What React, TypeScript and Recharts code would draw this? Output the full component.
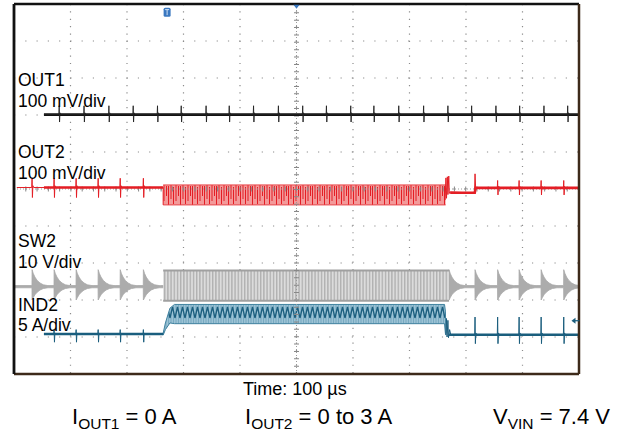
import React from 'react';
import {
  ComposedChart, Line, Area, XAxis, YAxis, CartesianGrid, ReferenceLine, ReferenceDot,
} from 'recharts';

// scope screen in divisions: x 0..10, y -5..5 (0 = centre line)
const xMajor = [0, 1, 2, 3, 4, 5, 6, 7, 8, 9, 10];
const yMajor = [-5, -4, -3, -2, -1, 0, 1, 2, 3, 4, 5];
const xMinor = Array.from({ length: 51 }, (_, i) => i / 5);
const yMinor = Array.from({ length: 51 }, (_, i) => -5 + i / 5);

// channel 2 skip pulses, load step
const ch2PulsesBefore = [0.32, 0.71, 1.10, 1.49, 1.88, 2.29];
const ch2PulsesAfter = [8.16, 8.56, 8.94, 9.33, 9.73];
const loadOn = 2.64;
const loadOff = 7.64;

// OUT1
const out1Level = 2.01;
const out1Start = 0.53;
const out1SpikeTimes = [0.80, 1.24, 1.68, 2.11, 2.54, 2.96, 3.40, 3.81, 4.24, 4.68, 5.11, 5.53,
  5.96, 6.37, 6.81, 7.25, 7.68, 8.10, 8.53, 8.95, 9.38, 9.80];
const out1Spike: [number, number][] = [[-0.006, 0], [0, 0.24], [0.006, -0.2], [0.014, 0.05], [0.028, 0]];

// OUT2
const out2Level = 0.04;
const out2LevelLow = -0.1;
const out2Start = 0.05;
const out2Band: [number, number] = [-0.43, 0.11];
const out2SpikeBefore: [number, number][] = [[-0.006, 0], [0, 0.25], [0.006, -0.27], [0.014, 0.05], [0.028, 0]];
const out2SpikeAfter: [number, number][] = [[-0.006, 0], [0, 0.2], [0.006, -0.19], [0.014, 0.04], [0.028, 0]];
const out2Tail: [number, number][] = [[7.63, -0.3], [7.645, 0.3], [7.655, -0.25], [7.67, 0.33], [7.68, -0.15],
  [7.695, 0.35], [7.705, -0.12], [7.72, -0.08], [8.15, -0.11], [8.16, 0.41], [8.17, 0.05], [8.2, 0.03]];

// SW2
const sw2Level = -2.64;
const sw2Band: [number, number] = [-3.02, -2.2];
const sw2RingTimes = [...ch2PulsesBefore, 7.7, ...ch2PulsesAfter];
const sw2Ring: [number, number, number][] = [[0, 0.46, 0.36], [0.02, 0.36, 0.3], [0.05, 0.26, 0.22],
  [0.09, 0.17, 0.15], [0.14, 0.1, 0.09], [0.2, 0.05, 0.05], [0.28, 0.03, 0.03]];

// IND2
const ind2Level = -3.92;
const ind2SpikeBefore: [number, number][] = [[-0.006, 0], [0, 0.12], [0.006, -0.22], [0.014, 0.03], [0.028, 0]];
const ind2SpikeAfter: [number, number][] = [[-0.006, 0], [0, 0.48], [0.006, -0.24], [0.014, 0.05], [0.028, 0]];
const ind2Rise: [number, number, number][] = [[2.64, -3.95, -3.9], [2.68, -3.8, -3.62], [2.76, -3.62, -3.22], [2.84, -3.64, -3.12]];
const ind2Fall: [number, number, number][] = [[7.62, -3.64, -3.12], [7.635, -3.9, -3.3], [7.645, -3.95, -3.9]];
const ind2Tail: [number, number][] = [[7.645, -3.94], [7.655, -3.5], [7.665, -4.0], [7.68, -3.55], [7.69, -4.02],
  [7.71, -3.8], [7.73, -3.94]];

type P = { t: number; v: number | null };
type R = { t: number; r: [number, number] };

const spikeLine = (level: number, from: number, to: number, times: number[], shape: [number, number][]): P[] => {
  const pts: P[] = [{ t: from, v: level }];
  times.filter((t0) => t0 > from && t0 < to).forEach((t0) => {
    shape.forEach(([dt, dv]) => pts.push({ t: t0 + dt, v: level + dv }));
  });
  pts.push({ t: to, v: level });
  return pts;
};

const out1Line = spikeLine(out1Level, out1Start, 10, out1SpikeTimes, out1Spike);
const out1Base: P[] = [{ t: out1Start, v: out1Level }, { t: 10, v: out1Level }];

const out2Pre = spikeLine(out2Level, out2Start, loadOn, ch2PulsesBefore, out2SpikeBefore);
const out2Line: P[] = [...out2Pre, { t: loadOn, v: out2Band[0] }, { t: 5, v: null },
  ...out2Tail.map(([t, v]) => ({ t, v })),
  ...spikeLine(0.03, 8.2, 10, ch2PulsesAfter, out2SpikeAfter)];
const out2Base: P[] = [{ t: out1Start, v: out2Level }, { t: loadOn, v: out2Level }, { t: 5, v: null },
  { t: 7.72, v: out2LevelLow }, { t: 8.155, v: out2LevelLow }, { t: 8.17, v: 0.03 }, { t: 10, v: 0.03 }];
const out2Dense: R[] = [{ t: loadOn, r: out2Band }, { t: loadOff, r: out2Band }];

const sw2Rings: R[] = (() => {
  const base: [number, number] = [sw2Level - 0.03, sw2Level + 0.03];
  const pts: R[] = [{ t: 0, r: base }];
  sw2RingTimes.forEach((t0) => {
    pts.push({ t: t0 - 0.002, r: base });
    sw2Ring.forEach(([dt, up, dn]) => pts.push({ t: t0 + dt, r: [sw2Level - dn, sw2Level + up] }));
    pts.push({ t: t0 + 0.3, r: base });
  });
  pts.push({ t: 10, r: base });
  return pts.filter((p, i) => !(p.t > loadOn && p.t < 7.69 && i > 0));
})();
const sw2Dense: R[] = [{ t: loadOn, r: sw2Band }, { t: 7.7, r: sw2Band }];

const ind2Line: P[] = [...spikeLine(ind2Level, out1Start, loadOn, ch2PulsesBefore, ind2SpikeBefore),
  { t: 5, v: null }, ...ind2Tail.map(([t, v]) => ({ t, v })),
  ...spikeLine(-3.94, 7.73, 10, ch2PulsesAfter, ind2SpikeAfter)];
const ind2Base: P[] = [{ t: out1Start, v: ind2Level }, { t: loadOn, v: ind2Level }, { t: 5, v: null },
  { t: 7.7, v: -3.94 }, { t: 10, v: -3.94 }];
const ind2Dense: R[] = [...ind2Rise, ...ind2Fall].map(([t, lo, hi]) => ({ t, r: [lo, hi] as [number, number] }));

const trigger = { t: 2.71, v: 4.78 };
const triggerPos = { t: 5, v: 4.9 };
const ch4Marker = { t: 9.92, v: -3.56 };

const font = 'Liberation Sans, Arial, sans-serif';
const label = (top: number, text: string) => (
  <div style={{ position: 'absolute', left: 18, top, fontSize: 17.5, lineHeight: 1, fontFamily: font, color: '#000' }}>{text}</div>
);

const TrigShape = (p: any) => (
  <g>
    <rect x={p.cx - 3.5} y={p.cy - 4.5} width={7} height={9} rx={1.5} fill="#3a78c0" />
    <path d={`M${p.cx - 2} ${p.cy - 2.5}H${p.cx + 2}M${p.cx} ${p.cy - 2.5}V${p.cy + 3}`} stroke="#cfe0f5" strokeWidth={1} />
  </g>
);
const PosShape = (p: any) => (
  <path d={`M${p.cx - 3} ${p.cy - 3}H${p.cx + 3}L${p.cx} ${p.cy + 1}Z`} fill="#3a78c0" />
);
const ChShape = (p: any) => (
  <g>
    <path d={`M${p.cx - 3} ${p.cy}L${p.cx + 1} ${p.cy - 3}V${p.cy + 3}Z`} fill="#1b5e7e" />
    <path d={`M${p.cx} ${p.cy}H${p.cx + 5}`} stroke="#1b5e7e" strokeWidth={1.2} />
  </g>
);

const frameTick = { stroke: '#555' };

export default function App() {
  return (
    <div style={{ position: 'absolute', left: 0, top: 0, width: 620, height: 435, background: '#fff' }}>
      <ComposedChart width={620} height={435} margin={{ top: 4, right: 41, bottom: 61, left: 14 }}>
        <defs>
          <pattern id="redHatch" patternUnits="userSpaceOnUse" x={0} y={184} width={12} height={22}>
            <rect width={12} height={22} fill="#f39a9a" />
            <path d="M0.5 2V21M3 1V15M5.5 3V20M8 1V17M10.5 2V12" stroke="#e41e25" strokeWidth={1} />
          </pattern>
          <pattern id="grayHatch" patternUnits="userSpaceOnUse" x={0} y={0} width={3.2} height={10}>
            <rect width={3.2} height={10} fill="#dcdcdc" />
            <path d="M1.5 0V10" stroke="#a6a6a6" strokeWidth={1.1} />
          </pattern>
          <pattern id="blueHatch" patternUnits="userSpaceOnUse" x={0} y={303} width={5} height={20}>
            <rect width={5} height={20} fill="#9cc3d5" />
            <path d="M1 0V20M3.5 0V20" stroke="#6fa2bb" strokeWidth={0.8} />
            <path d="M0 15L2.5 4L5 15" stroke="#1b5e7e" strokeWidth={1.3} fill="none" />
          </pattern>
        </defs>
        <CartesianGrid horizontal={false} stroke="#8c8c8c" strokeWidth={1.2} strokeDasharray="1.2 6.16" />
        <CartesianGrid vertical={false} stroke="#8c8c8c" strokeWidth={1.2} strokeDasharray="1.2 10.06" />
        <XAxis dataKey="t" type="number" domain={[0, 10]} ticks={xMajor} allowDataOverflow hide />
        <YAxis type="number" domain={[-5, 5]} ticks={yMajor} allowDataOverflow hide />
        <ReferenceLine x={5} stroke="#9a9a9a" strokeDasharray="1 2" />
        <ReferenceLine x={5} stroke="#888" strokeWidth={5} strokeDasharray="1 6.36" />
        <ReferenceLine y={0} stroke="#9a9a9a" strokeDasharray="1 2" />
        <ReferenceLine y={0} stroke="#888" strokeWidth={5} strokeDasharray="1 10.28" />

        <Area data={sw2Rings} dataKey="r" type="linear" stroke="#a8a8a8" strokeWidth={0.8} fill="#acacac" fillOpacity={1} isAnimationActive={false} />
        <Area data={sw2Dense} dataKey="r" type="linear" stroke="#a0a0a0" strokeWidth={2} fill="url(#grayHatch)" fillOpacity={1} isAnimationActive={false} />

        <Area data={ind2Dense} dataKey="r" type="linear" stroke="#3f819f" strokeWidth={1} fill="url(#blueHatch)" fillOpacity={1} isAnimationActive={false} />
        <Line data={ind2Base} dataKey="v" type="linear" stroke="#1b5e7e" strokeWidth={2.6} dot={false} isAnimationActive={false} />
        <Line data={ind2Line} dataKey="v" type="linear" stroke="#1b5e7e" strokeWidth={1} dot={false} isAnimationActive={false} />

        <Area data={out2Dense} dataKey="r" type="linear" stroke="#e8484c" strokeWidth={1} fill="url(#redHatch)" fillOpacity={1} isAnimationActive={false} />
        <Line data={out2Base} dataKey="v" type="linear" stroke="#e41e25" strokeWidth={2.6} dot={false} isAnimationActive={false} />
        <Line data={out2Line} dataKey="v" type="linear" stroke="#e41e25" strokeWidth={1} dot={false} isAnimationActive={false} />

        <Line data={out1Base} dataKey="v" type="linear" stroke="#111" strokeWidth={2.6} dot={false} isAnimationActive={false} />
        <Line data={out1Line} dataKey="v" type="linear" stroke="#222" strokeWidth={0.9} dot={false} isAnimationActive={false} />

        <ReferenceDot x={trigger.t} y={trigger.v} r={4} shape={TrigShape} />
        <ReferenceDot x={triggerPos.t} y={triggerPos.v} r={3} shape={PosShape} />
        <ReferenceDot x={ch4Marker.t} y={ch4Marker.v} r={3} shape={ChShape} />

        <XAxis xAxisId="top" type="number" domain={[0, 10]} ticks={xMinor} interval={0} orientation="top" height={1} mirror
          tick={false} tickSize={4} axisLine={{ stroke: '#111', strokeWidth: 2.5 }} tickLine={frameTick} />
        <XAxis xAxisId="bottom" type="number" domain={[0, 10]} ticks={xMinor} interval={0} orientation="bottom" height={1} mirror
          tick={false} tickSize={4} axisLine={{ stroke: '#3d2a1a', strokeWidth: 2.5 }} tickLine={frameTick} />
        <YAxis yAxisId="left" type="number" domain={[-5, 5]} ticks={yMinor} interval={0} orientation="left" width={1} mirror
          tick={false} tickSize={4} axisLine={{ stroke: '#111', strokeWidth: 2.8 }} tickLine={frameTick} />
        <YAxis yAxisId="right" type="number" domain={[-5, 5]} ticks={yMinor} interval={0} orientation="right" width={1} mirror
          tick={false} tickSize={4} axisLine={{ stroke: '#3d2a1a', strokeWidth: 2.5 }} tickLine={frameTick} />
      </ComposedChart>

      {label(72, 'OUT1')}
      {label(93, '100 mV/div')}
      {label(144, 'OUT2')}
      {label(165, '100 mV/div')}
      {label(233, 'SW2')}
      {label(254, '10 V/div')}
      {label(297, 'IND2')}
      {label(317, '5 A/div')}

      <div style={{ position: 'absolute', left: 243, top: 380, fontSize: 18, lineHeight: 1, fontFamily: font }}>Time: 100 µs</div>
      <div style={{ position: 'absolute', left: 72, top: 406, fontSize: 22, lineHeight: 1, fontFamily: font, whiteSpace: 'nowrap' }}>
        I<span style={{ fontSize: 15.5, position: 'relative', top: 5 }}>OUT1</span> = 0 A
      </div>
      <div style={{ position: 'absolute', left: 245, top: 406, fontSize: 22, lineHeight: 1, fontFamily: font, whiteSpace: 'nowrap' }}>
        I<span style={{ fontSize: 15.5, position: 'relative', top: 5 }}>OUT2</span> = 0 to 3 A
      </div>
      <div style={{ position: 'absolute', left: 493, top: 406, fontSize: 22, lineHeight: 1, fontFamily: font, whiteSpace: 'nowrap' }}>
        V<span style={{ fontSize: 15.5, position: 'relative', top: 5 }}>VIN</span> = 7.4 V
      </div>
    </div>
  );
}
